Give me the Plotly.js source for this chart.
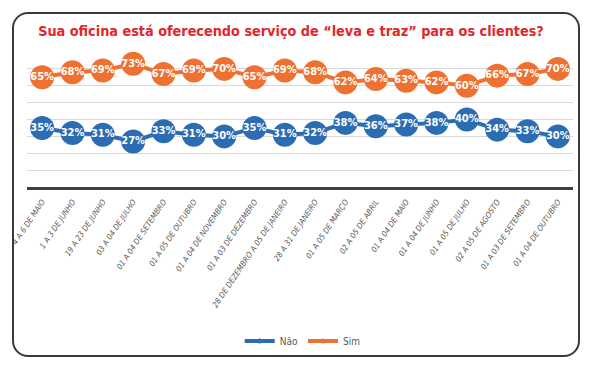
<!DOCTYPE html>
<html>
<head>
<meta charset="utf-8">
<script src="https://cdn.plot.ly/plotly-3.0.1.min.js"></script>
<style>
  html, body { margin: 0; padding: 0; background: #fff; }
  #wrap { position: relative; width: 600px; height: 365px; }
  #chart { position: absolute; left: 0; top: 0; width: 600px; height: 365px; }
  #frame { position: absolute; left: 12px; top: 12px; width: 564px; height: 341px;
           border: 2px solid #3d3936; border-radius: 16px; pointer-events: none; }
</style>
</head>
<body>
<div id="wrap">
  <div id="chart"></div>
  <div id="frame"></div>
</div>
<script>
const categories = [
  "4 A 6 DE MAIO", "1 A 3 DE JUNHO", "19 A 23 DE JUNHO", "03 A 04 DE JULHO",
  "01 A 04 DE SETEMBRO", "01 A 05 DE OUTUBRO", "01 A 04 DE NOVEMBRO",
  "01 A 03 DE DEZEMBRO", "28 DE DEZEMBRO A 05 DE JANEIRO", "28 A 31 DE JANEIRO",
  "01 A 05 DE MARÇO", "02 A 05 DE ABRIL", "01 A 04 DE MAIO", "01 A 04 DE JUNHO",
  "01 A 05 DE JULHO", "02 A 05 DE AGOSTO", "01 A 03 DE SETEMBRO", "01 A 04 DE OUTUBRO"
];
const nao = [35, 32, 31, 27, 33, 31, 30, 35, 31, 32, 38, 36, 37, 38, 40, 34, 33, 30];
const sim = [65, 68, 69, 73, 67, 69, 70, 65, 69, 68, 62, 64, 63, 62, 60, 66, 67, 70];

const BLUE = "#2b6cb3";
const ORANGE = "#ee7131";
const COND = "DejaVu Sans Condensed, Roboto, sans-serif";

function series(vals, color) {
  return {
    x: categories, y: vals, type: "scatter", mode: "lines+markers+text",
    text: vals.map(v => v + "%"), textposition: "middle center",
    textfont: { family: COND, size: 11, color: "#ffffff", weight: "bold" },
    line: { color: color, width: 4 },
    marker: { color: color, size: 24 },
    showlegend: false, hoverinfo: "skip", cliponaxis: false
  };
}
function legendItem(name, color) {
  return {
    x: [null], y: [null], type: "scatter", mode: "lines+markers", name: name,
    line: { color: color, width: 4 }, marker: { color: color, size: 5 }
  };
}

const data = [series(nao, BLUE), series(sim, ORANGE), legendItem("Não", BLUE), legendItem("Sim", ORANGE)];

const layout = {
  width: 600, height: 365,
  margin: { l: 27, r: 27, t: 52, b: 177 },
  paper_bgcolor: "rgba(0,0,0,0)", plot_bgcolor: "rgba(0,0,0,0)",
  title: {
    text: "Sua oficina está oferecendo serviço de “leva e traz” para os clientes?",
    x: 0.485, xanchor: "center", y: 0.915, yanchor: "middle",
    font: { family: COND, size: 14.3, color: "#e3262a", weight: "bold" }
  },
  xaxis: {
    type: "category", range: [-0.5, 17.5], showgrid: false, showline: true,
    linecolor: "#404040", linewidth: 3,
    ticks: "", tickangle: -56, automargin: false, ticklabelstandoff: 4,
    tickfont: { family: COND, size: 8, color: "#595959", style: "italic" }
  },
  yaxis: {
    range: [0, 80], dtick: 10, showticklabels: false, showgrid: true,
    gridcolor: "#d9d9d9", gridwidth: 1, zeroline: false, fixedrange: true
  },
  legend: {
    orientation: "h", x: 0.505, xanchor: "center", y: -1.125, yanchor: "middle",
    font: { family: COND, size: 10, color: "#595959" },
    itemwidth: 30, traceorder: "normal"
  }
};

Plotly.newPlot("chart", data, layout, { displayModeBar: false, staticPlot: true });
</script>
</body>
</html>
